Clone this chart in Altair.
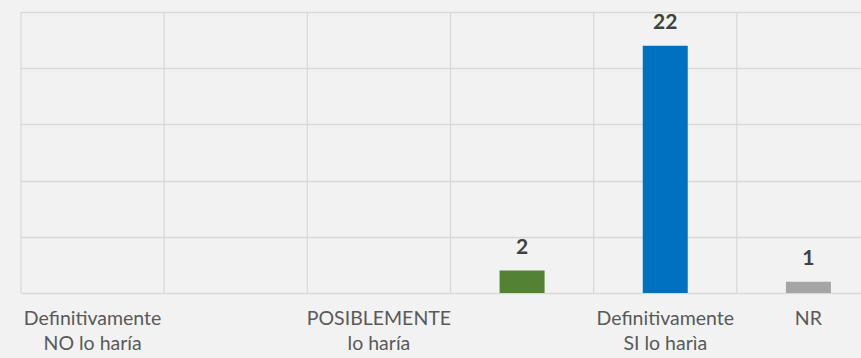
import altair as alt
import pandas as pd

# Response categories (two-line labels, split on "\n"); two of them carry no label text
categories = [
    "Definitivamente\nNO lo haría",
    " ",
    "POSIBLEMENTE\nlo haría",
    "  ",
    "Definitivamente\nSI lo harìa",
    "NR",
]
values = [None, None, None, 2, 22, 1]
colors = ["#548235", "#548235", "#548235", "#548235", "#0070c0", "#a5a5a5"]

df = pd.DataFrame({"cat": categories, "val": values, "color": colors})
bars_df = df.dropna(subset=["val"])

x_scale = alt.Scale(type="band", domain=categories, range=[0, 859], paddingInner=0, paddingOuter=0)
y_scale = alt.Scale(domain=[0, 25])

base = alt.Chart(bars_df)

bars = base.mark_bar(size=45).encode(
    x=alt.X(
        "cat:N",
        scale=x_scale,
        sort=categories,
        axis=alt.Axis(
            title=None,
            domain=False,
            ticks=False,
            grid=False,
            labelAngle=0,
            labelAlign="center",
            labelExpr="split(datum.value, '\\n')",
            labelFont="Lato",
            labelFontSize=19.5,
            labelColor="#595959",
            labelLineHeight=25,
            labelPadding=25,
        ),
    ),
    y=alt.Y(
        "val:Q",
        scale=y_scale,
        axis=alt.Axis(
            title=None,
            domain=False,
            ticks=False,
            labels=False,
            values=[0, 5, 10, 15, 20, 25],
            grid=True,
            gridColor="#d9d9d9",
            gridWidth=1.3,
        ),
    ),
    color=alt.Color("color:N", scale=None),
)

labels = base.mark_text(
    dy=-13, baseline="bottom", font="Lato", fontSize=21, fontWeight="bold", color="#404040"
).encode(
    x=alt.X("cat:N", scale=x_scale, sort=categories),
    y=alt.Y("val:Q", scale=y_scale),
    text=alt.Text("val:Q", format="d"),
)

# vertical separators at the start of each category band
vlines = alt.Chart(df).mark_rule(color="#d9d9d9", strokeWidth=1.3).encode(
    x=alt.X("cat:N", scale=x_scale, sort=categories, bandPosition=0),
    y=alt.value(0),
    y2=alt.value(281),
)

chart = (
    alt.layer(vlines, bars, labels)
    .properties(
        width=840,
        height=281,
        background="#f2f2f2",
        padding={"left": 21, "top": 12, "right": 0, "bottom": 65},
        autosize=alt.AutoSizeParams(type="none"),
    )
    .configure_view(stroke=None)
)

chart.save("out.html", embed_options={"renderer": "svg", "actions": False})
